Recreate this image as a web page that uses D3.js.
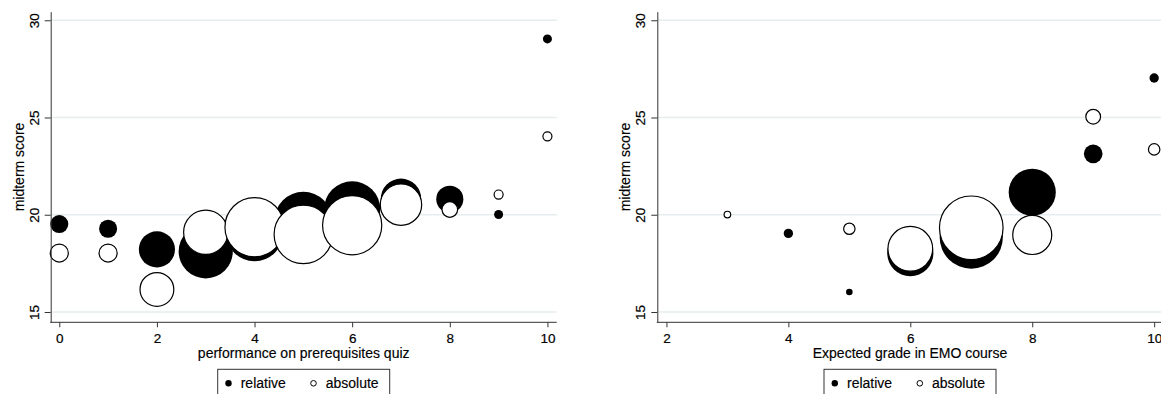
<!DOCTYPE html>
<html>
<head>
<meta charset="utf-8">
<script src="https://cdn.jsdelivr.net/npm/d3@7"></script>
<style>
  body { margin: 0; background: #fff; }
  svg { display: block; font-family: "Liberation Sans", Arial, Helvetica, sans-serif; }
  .grid line { stroke: #e6edef; stroke-width: 1.3; }
  .axis path, .axis line { stroke: #333; stroke-width: 1; }
  .axis text { fill: #000; font-size: 13.5px; stroke: #000; stroke-width: 0.2; }
  .title { fill: #000; font-size: 14px; stroke: #000; stroke-width: 0.15; }
  .legend text { fill: #000; font-size: 14px; stroke: #000; stroke-width: 0.15; }
</style>
</head>
<body>
<script>
// left panel: midterm score by prerequisites quiz result
var quizX = [0, 1, 2, 3, 4, 5, 6, 7, 8, 9, 10];
var quizRelMean = [19.52, 19.28, 18.22, 18.12, 19.10, 19.69, 20.27, 20.82, 20.80, 20.01, 29.04];
var quizRelCount = [4, 4, 16, 36, 41, 41, 39, 20, 9, 1, 1];
var quizAbsMean = [18.03, 18.03, 16.16, 19.10, 19.36, 18.99, 19.46, 20.52, 20.27, 21.04, 24.03];
var quizAbsCount = [4, 4, 14, 24, 43, 42, 43, 21, 3, 1, 1];

// right panel: midterm score by expected grade
var gradeRelX = [4, 5, 6, 7, 8, 9, 10];
var gradeRelMean = [19.04, 16.03, 18.03, 18.85, 21.16, 23.13, 27.03];
var gradeRelCount = [2, 1, 49, 92, 51, 8, 2];
var gradeAbsX = [3, 5, 6, 7, 8, 9, 10];
var gradeAbsMean = [20.01, 19.28, 18.25, 19.33, 18.96, 25.04, 23.36];
var gradeAbsCount = [1, 3, 46, 93, 35, 5, 3];

var yTicks = [15, 20, 25, 30];
var quizTicks = [0, 2, 4, 6, 8, 10];
var gradeTicks = [2, 4, 6, 8, 10];
var legendLabels = ["relative", "absolute"];

var W = 1161, H = 394;
var plotTop = 11.7, plotBottom = 322.3;

var svg = d3.select("body").append("svg")
    .attr("width", W)
    .attr("height", H);

var y = d3.scaleLinear().domain([14.47, 30.44]).range([plotBottom, plotTop]);

var panels = [
    {left: 50.7, right: 556.7, xDomain: [-0.176, 10.19], ticks: quizTicks, rMax: 29.6,
     title: "performance on prerequisites quiz",
     rel: {x: quizX, y: quizRelMean, n: quizRelCount},
     abs: {x: quizX, y: quizAbsMean, n: quizAbsCount}},
    {left: 657.3, right: 1162.7, xDomain: [1.85, 10.14], ticks: gradeTicks, rMax: 31.8,
     title: "Expected grade in EMO course",
     rel: {x: gradeRelX, y: gradeRelMean, n: gradeRelCount},
     abs: {x: gradeAbsX, y: gradeAbsMean, n: gradeAbsCount}}
];

function rows(s) {
    return s.x.map((d, i) => ({x: d, y: s.y[i], n: s.n[i]}));
}

function drawPanel(cfg) {
    var g = svg.append("g");
    var x = d3.scaleLinear().domain(cfg.xDomain).range([cfg.left, cfg.right]);
    var maxN = d3.max(cfg.rel.n.concat(cfg.abs.n));
    var r = d3.scaleSqrt().domain([0, maxN]).range([0, cfg.rMax]);

    g.append("g")
        .attr("class", "grid")
        .selectAll("line")
        .data(yTicks)
        .enter().append("line")
        .attr("x1", cfg.left)
        .attr("x2", cfg.right)
        .attr("y1", d => y(d))
        .attr("y2", d => y(d));

    // filled first, hollow on top
    g.append("g")
        .selectAll("circle")
        .data(rows(cfg.rel))
        .enter().append("circle")
        .attr("cx", d => x(d.x))
        .attr("cy", d => y(d.y))
        .attr("r", d => r(d.n))
        .attr("fill", "#000");

    g.append("g")
        .selectAll("circle")
        .data(rows(cfg.abs))
        .enter().append("circle")
        .attr("cx", d => x(d.x))
        .attr("cy", d => y(d.y))
        .attr("r", d => r(d.n))
        .attr("fill", "#fff")
        .attr("stroke", "#000")
        .attr("stroke-width", 1.2);

    var yAxis = g.append("g")
        .attr("class", "axis")
        .attr("transform", "translate(" + cfg.left + ",0)")
        .call(d3.axisLeft(y).tickValues(yTicks).tickSize(6).tickSizeOuter(0).tickFormat(d3.format("d")));
    yAxis.selectAll("text")
        .attr("transform", "rotate(-90)")
        .attr("x", 0)
        .attr("y", -12.2)
        .attr("dy", 0)
        .attr("text-anchor", "middle");

    var xAxis = g.append("g")
        .attr("class", "axis")
        .attr("transform", "translate(0," + plotBottom + ")")
        .call(d3.axisBottom(x).tickValues(cfg.ticks).tickSize(5).tickSizeOuter(0).tickFormat(d3.format("d")));
    xAxis.selectAll("text")
        .attr("y", 20.4)
        .attr("dy", 0);
    xAxis.select(".domain").attr("d", "M" + (cfg.left - 0.5) + ",0H" + cfg.right);

    var mid = (cfg.left + cfg.right) / 2;
    g.append("text")
        .attr("class", "title")
        .attr("x", mid)
        .attr("y", 357.5)
        .attr("text-anchor", "middle")
        .text(cfg.title);

    g.append("text")
        .attr("class", "title")
        .attr("transform", "translate(" + (cfg.left - 27) + "," + ((plotTop + plotBottom) / 2) + ") rotate(-90)")
        .attr("text-anchor", "middle")
        .text("midterm score");

    // legend
    var lg = g.append("g")
        .attr("class", "legend")
        .attr("transform", "translate(" + (mid - 86) + ",369.3)");
    lg.append("rect")
        .attr("width", 172)
        .attr("height", 34)
        .attr("fill", "#fff")
        .attr("stroke", "#333")
        .attr("stroke-width", 1);
    lg.append("circle")
        .attr("cx", 10.8)
        .attr("cy", 14)
        .attr("r", 3.2)
        .attr("fill", "#000");
    lg.append("text")
        .attr("x", 23)
        .attr("y", 19)
        .text(legendLabels[0]);
    lg.append("circle")
        .attr("cx", 95.8)
        .attr("cy", 14)
        .attr("r", 2.8)
        .attr("fill", "#fff")
        .attr("stroke", "#000")
        .attr("stroke-width", 1);
    lg.append("text")
        .attr("x", 108)
        .attr("y", 19)
        .text(legendLabels[1]);
}

panels.forEach(drawPanel);
</script>
</body>
</html>
